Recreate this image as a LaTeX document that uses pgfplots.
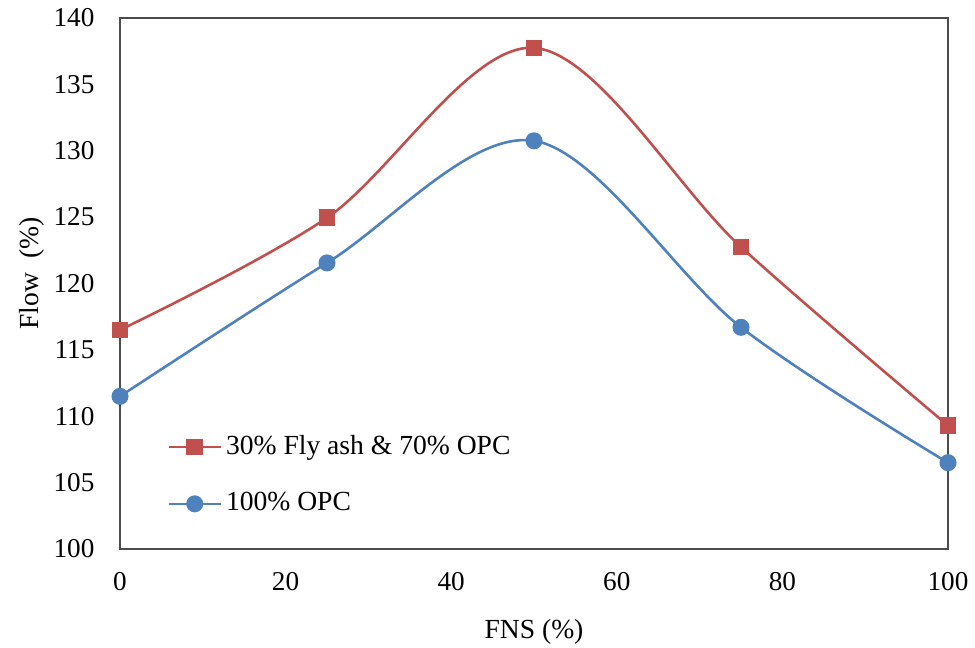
\documentclass[border=0pt]{standalone}
\usepackage{fontspec}
\setmainfont{Liberation Serif}
\usepackage{pgfplots}
\pgfplotsset{compat=1.18}
\definecolor{exred}{RGB}{192,80,77}
\definecolor{exblue}{RGB}{79,129,189}
\begin{document}
\fontsize{13.8}{16}\selectfont
\begin{tikzpicture}
\useasboundingbox (-60pt,-49.5pt) rectangle (427.5pt,274.5pt);
\begin{axis}[
  scale only axis, width=414pt, height=265.5pt,
  at={(0,0)}, anchor=south west,
  xmin=0, xmax=100, ymin=100, ymax=140,
  xtick={0,20,...,100}, ytick={100,105,...,140},
  major tick length=0pt,
  axis line style={draw=black!70, line width=0.8pt},
  /pgf/number format/assume math mode=true,
  tick label style={font=\fontsize{13.6}{16}\selectfont},
  xticklabel style={yshift=-7pt},
  yticklabel style={xshift=-8pt},
  xlabel={FNS (\%)}, ylabel={Flow\ \ (\%)},
  label style={font=\fontsize{13.8}{16}\selectfont},
  xlabel style={at={(axis description cs:0.5,0)}, anchor=center, yshift=-41.5pt},
  ylabel style={at={(axis description cs:-0.106,0.519)}, anchor=center},
  legend style={draw=none, fill=none, at={(0.0568,0.139)}, anchor=west, inner sep=0pt,
    row sep=13pt, font=\fontsize{13.8}{16}\selectfont, cells={anchor=west}},
  legend cell align=left,
  legend image code/.code={\draw[mark repeat=2,mark phase=2,#1] plot coordinates {(0pt,0pt) (13pt,0pt) (26pt,0pt)};},
  clip=false,
]
\addplot[exred, line width=1.3pt, smooth, tension=0.55, mark=square*, mark size=3.5pt, mark options={solid, fill=exred, draw=exred}]
  coordinates {(0,116.5) (25,124.95) (50,137.75) (75,122.75) (100,109.3)};
\addlegendentry{30\% Fly ash \& 70\% OPC}
\addplot[exblue, line width=1.3pt, smooth, tension=0.55, mark=*, mark size=3.6pt, mark options={solid, fill=exblue, draw=exblue}]
  coordinates {(0,111.5) (25,121.55) (50,130.75) (75,116.7) (100,106.5)};
\addlegendentry{100\% OPC}
\end{axis}
\end{tikzpicture}
\end{document}
